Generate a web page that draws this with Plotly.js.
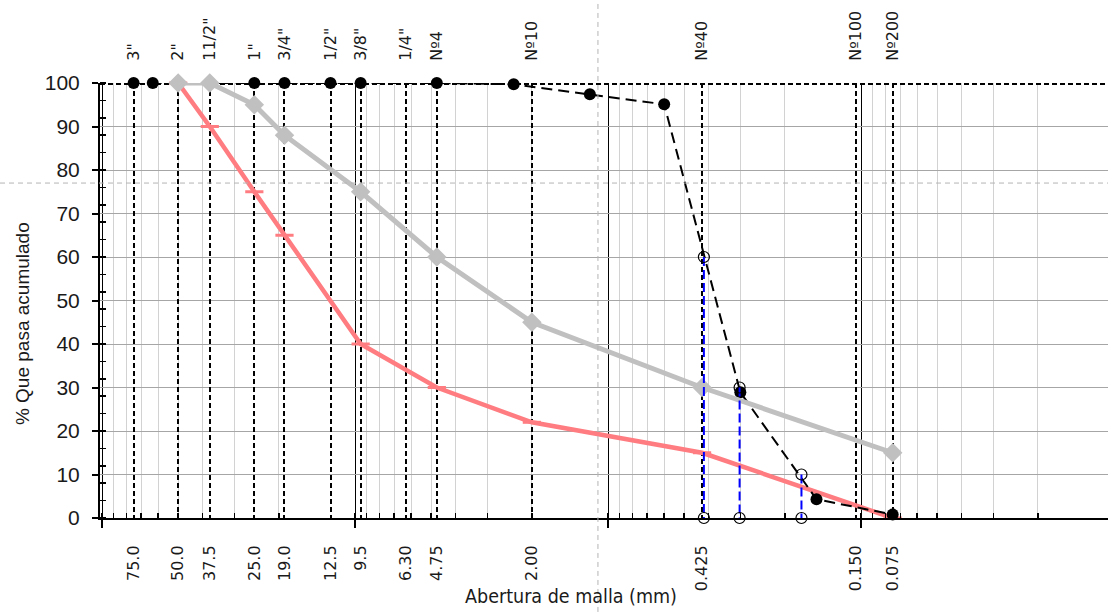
<!DOCTYPE html>
<html><head><meta charset="utf-8">
<script src="https://cdn.plot.ly/plotly-3.0.1.min.js"></script>
<style>html,body{margin:0;padding:0;background:#fff}#chart{width:1108px;height:612px}</style>
</head><body><div id="chart"></div>
<script>
// Sieve positions (mm) as drawn, with their labels
const sieveOpening = [75, 50, 37.5, 25, 19, 12.5, 9.5, 6.3, 4.75, 2.0, 0.425, 0.105, 0.075];
const sieveBottomLabels = ['75.0','50.0','37.5','25.0','19.0','12.5','9.5','6.30','4.75','2.00','0.425','0.150','0.075'];
const sieveTopLabels = ['3"','2"','11/2"','1"','3/4"','1/2"','3/8"','1/4"','Nº4','Nº10','Nº40','Nº100','Nº200'];

// Sample gradation (black dashed)
const sampleSize = [75, 63, 50, 37.5, 25, 19, 12.5, 9.5, 4.75, 2.36, 1.18, 0.6, 0.3, 0.15, 0.075];
const samplePass = [100, 100, 100, 100, 100, 100, 100, 100, 100, 99.7, 97.4, 95.1, 28.9, 4.3, 0.8];

// Upper envelope (grey)
const upperSize = [50, 37.5, 25, 19, 9.5, 4.75, 2.0, 0.425, 0.075];
const upperPass = [100, 100, 95, 88, 75, 60, 45, 30, 15];

// Lower envelope (red)
const lowerSize = [50, 37.5, 25, 19, 9.5, 4.75, 2.0, 0.425, 0.075];
const lowerPass = [100, 90, 75, 65, 40, 30, 22, 15, 0];

// Characteristic diameters D60, D30, D10
const dSize = [0.418, 0.302, 0.172];
const dPass = [60, 30, 10];

const xRange = [2.0079, -1.976];
const tickFont = {family: 'DejaVu Sans, sans-serif', size: 16, color: '#1a1a1a'};

const dLineX = [], dLineY = [];
dSize.forEach((d, i) => { dLineX.push(d, d, null); dLineY.push(dPass[i], 0, null); });
const dMarkX = dSize.concat(dSize);
const dMarkY = dPass.concat(dSize.map(() => 0));

const ghost = {type: 'scatter', mode: 'markers', marker: {opacity: 0}, hoverinfo: 'skip', showlegend: false};

const traces = [
  // invisible carriers so the overlay axes (sieve lines / labels / 100% line) get drawn
  Object.assign({}, ghost, {x: sieveOpening, y: sieveOpening.map(() => 50), xaxis: 'x2', yaxis: 'y'}),
  Object.assign({}, ghost, {x: sieveOpening, y: sieveOpening.map(() => 50), xaxis: 'x3', yaxis: 'y'}),
  Object.assign({}, ghost, {x: sampleSize, y: samplePass, xaxis: 'x', yaxis: 'y2'}),
  {x: lowerSize, y: lowerPass, type: 'scatter', mode: 'lines+markers', cliponaxis: false,
   line: {color: '#ff7c80', width: 4.5},
   marker: {symbol: 'line-ew', size: 13, color: '#ff7c80', line: {color: '#ff7c80', width: 3}}},
  {x: sampleSize, y: samplePass, type: 'scatter', mode: 'lines+markers', cliponaxis: false,
   line: {color: '#000', width: 2, dash: '11px,6px'},
   marker: {symbol: 'circle', size: 12, color: '#000'}},
  {x: upperSize, y: upperPass, type: 'scatter', mode: 'lines+markers', cliponaxis: false,
   line: {color: '#c0c0c0', width: 5},
   marker: {symbol: 'diamond', size: 15, color: '#c0c0c0'}},
  {x: dLineX, y: dLineY, type: 'scatter', mode: 'lines', cliponaxis: false,
   line: {color: '#0000ff', width: 2, dash: '9px,4px'}},
  {x: dMarkX, y: dMarkY, type: 'scatter', mode: 'markers', cliponaxis: false,
   marker: {symbol: 'circle-open', size: 11, color: '#000', line: {width: 1.2}}}
];

const layout = {
  width: 1108, height: 612,
  margin: {l: 100, r: 0, t: 83, b: 94},
  paper_bgcolor: '#fff', plot_bgcolor: '#fff',
  showlegend: false,
  xaxis: {type: 'log', range: xRange, dtick: 1, showticklabels: false,
    ticks: 'outside', ticklen: 8, tickwidth: 2, tickcolor: '#000',
    showgrid: true, gridcolor: '#000', gridwidth: 1,
    minor: {dtick: 'D1', showgrid: true, gridcolor: '#d2d2d2', gridwidth: 1,
            ticks: 'inside', ticklen: 5, tickwidth: 1.5, tickcolor: '#000'},
    showline: true, linecolor: '#000', linewidth: 2, zeroline: false},
  xaxis2: {type: 'log', overlaying: 'x', anchor: 'y', side: 'bottom', range: xRange,
    tickmode: 'array', tickvals: sieveOpening, ticktext: sieveBottomLabels, tickangle: -90,
    tickfont: tickFont, ticks: 'outside', ticklen: 20, tickcolor: 'rgba(0,0,0,0)',
    showgrid: true, gridcolor: '#000', gridwidth: 2, griddash: '5px,3px',
    showline: false, zeroline: false},
  xaxis3: {type: 'log', overlaying: 'x', anchor: 'y', side: 'top', range: xRange,
    tickmode: 'array', tickvals: sieveOpening, ticktext: sieveTopLabels, tickangle: -90,
    tickfont: tickFont, ticks: 'outside', ticklen: 18, tickcolor: 'rgba(0,0,0,0)',
    showgrid: false, showline: false, zeroline: false},
  yaxis: {range: [0, 100], dtick: 10,
    tickfont: {family: 'Liberation Sans, Arial, sans-serif', size: 21, color: '#1a1a1a'},
    ticks: 'outside', ticklen: 6, tickwidth: 2, tickcolor: '#000', ticklabelstandoff: 8,
    showline: true, linecolor: '#000', linewidth: 2,
    showgrid: true, gridcolor: '#a6a6a6', gridwidth: 1, zeroline: false,
    minor: {dtick: 4, tick0: 0, ticks: 'inside', ticklen: 6, tickwidth: 1.5, tickcolor: '#000', showgrid: false}},
  yaxis2: {overlaying: 'y', anchor: 'x', side: 'left', range: [0, 100.3],
    tickmode: 'array', tickvals: [100], showticklabels: false, ticks: '',
    showgrid: true, gridcolor: '#000', gridwidth: 2, griddash: '5px,3px',
    showline: false, zeroline: false},
  annotations: [
    {text: 'Abertura de malla (mm)', xref: 'paper', yref: 'paper', x: 0.467, y: -0.1816,
     xanchor: 'center', yanchor: 'middle', showarrow: false,
     font: {family: 'Liberation Sans Narrow, DejaVu Sans Condensed, sans-serif', size: 19.5, color: '#1a1a1a'}},
    {text: '% Que pasa acumulado', xref: 'paper', yref: 'paper', x: -0.0774, y: 0.448,
     xanchor: 'center', yanchor: 'middle', textangle: -90, showarrow: false,
     font: {family: 'Liberation Sans, Arial, sans-serif', size: 19, color: '#1a1a1a'}}
  ],
  shapes: [
    {type: 'line', xref: 'paper', yref: 'paper', x0: 0.494, x1: 0.494, y0: -0.216, y1: 1.191,
     line: {color: '#b4b4b4', width: 1, dash: '5px,4px'}, layer: 'above'},
    {type: 'line', xref: 'paper', yref: 'paper', x0: -0.0992, x1: 1, y0: 0.770, y1: 0.770,
     line: {color: '#b4b4b4', width: 1, dash: '5px,4px'}, layer: 'above'}
  ]
};

Plotly.newPlot('chart', traces, layout, {displayModeBar: false, staticPlot: true});
</script>
</body></html>
